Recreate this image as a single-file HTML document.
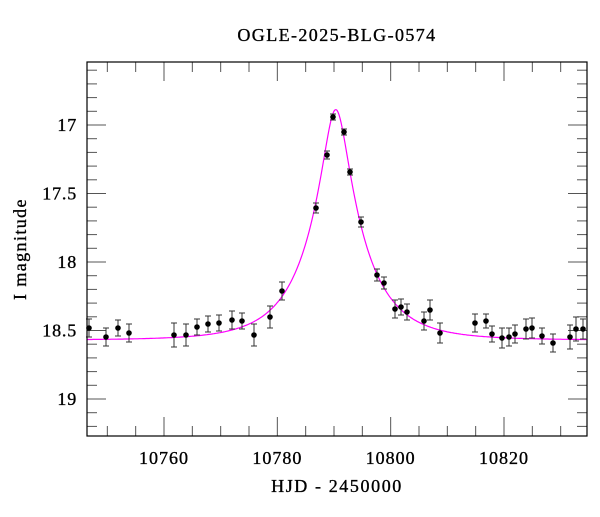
<!DOCTYPE html><html><head><style>body{margin:0;background:#fff}svg text{font-family:"Liberation Serif",serif;fill:#000;stroke:#000;stroke-width:0.35}</style></head><body>
<svg id="s" width="600" height="512" xmlns="http://www.w3.org/2000/svg">
<text x="337" y="41" font-size="18" letter-spacing="1.4" text-anchor="middle">OGLE-2025-BLG-0574</text>
<text x="337" y="492" font-size="18" letter-spacing="1.6" text-anchor="middle">HJD - 2450000</text>
<text transform="translate(26,249) rotate(-90)" font-size="18" letter-spacing="1.4" text-anchor="middle">I magnitude</text>
<g id="g"></g>
<rect x="87" y="62" width="500" height="374" fill="none" stroke="#000" stroke-width="1.2"/>
</svg>
<script>
const X=t=>164+(t-10760)*340/60, Y=m=>125+(m-17)*137;
let h='';
for(let t=10750;t<=10830;t+=5){const x=X(t);if(x<88||x>586)continue;const L=t%20==0?19:10;h+=`<line x1="${x}" y1="436" x2="${x}" y2="${436-L}" stroke="#555"/><line x1="${x}" y1="62" x2="${x}" y2="${62+L}" stroke="#555"/>`;if(t%20==0)h+=`<text x="${x}" y="464" font-size="18" letter-spacing="1" text-anchor="middle">${t}</text>`;}
for(let i=166;i<=192;i++){const m=i/10,y=Y(m);if(y<63||y>435)continue;const L=i%5==0?19:10;h+=`<line x1="87" y1="${y}" x2="${87+L}" y2="${y}" stroke="#555"/><line x1="587" y1="${y}" x2="${587-L}" y2="${y}" stroke="#555"/>`;if(i%5==0)h+=`<text x="77" y="${y+6}" font-size="18" letter-spacing="0.8" text-anchor="end">${(m%1==0)?m:m.toFixed(1)}</text>`;}
let p='';for(let px=87;px<=587;px+=1){const t=10746.4+(px-87)*60/340;const u0=0.216,tE=9.7,t0=10790.3;const u=Math.sqrt(u0*u0+((t-t0)/tE)**2);const A=(u*u+2)/(u*Math.sqrt(u*u+4));const m=18.57-2.5*Math.log10(A);p+=(p?'L':'M')+px+','+Y(m).toFixed(1);}
h+=`<path d="${p}" fill="none" stroke="#f0f" stroke-width="1.2"/>`;
const d=[[89,328,9],[106,337,9],[118,328,8],[129,333,9],[174,335,12],[186,335,11],[197,327,8],[208,324,8],[219,323,8],[232,320,9],[242,321,8],[254,335,11],[270,317,11],[282,291,9],[316,208,5],[327,155,4],[333,117,3],[344,132,3],[350,172,3],[361,222,5],[377,275,6],[384,283,6],[395,309,9],[401,307,8],[407,312,8],[424,321,9],[430,310,10],[440,333,10],[475,323,9],[486,321,7],[492,334,8],[502,338,10],[509,337,9],[515,334,9],[526,329,10],[532,328,10],[542,336,8],[553,343,9],[570,337,12],[576,329,12],[583,329,10]];
for(const[x,y,e]of d){h+=`<path d="M${x},${y-e}V${y+e}M${x-3},${y-e}H${x+3}M${x-3},${y+e}H${x+3}" stroke="#333" stroke-width="1"/><circle cx="${x}" cy="${y}" r="2.8" fill="#000"/>`;}
document.getElementById('g').innerHTML=h;
</script></body></html>
